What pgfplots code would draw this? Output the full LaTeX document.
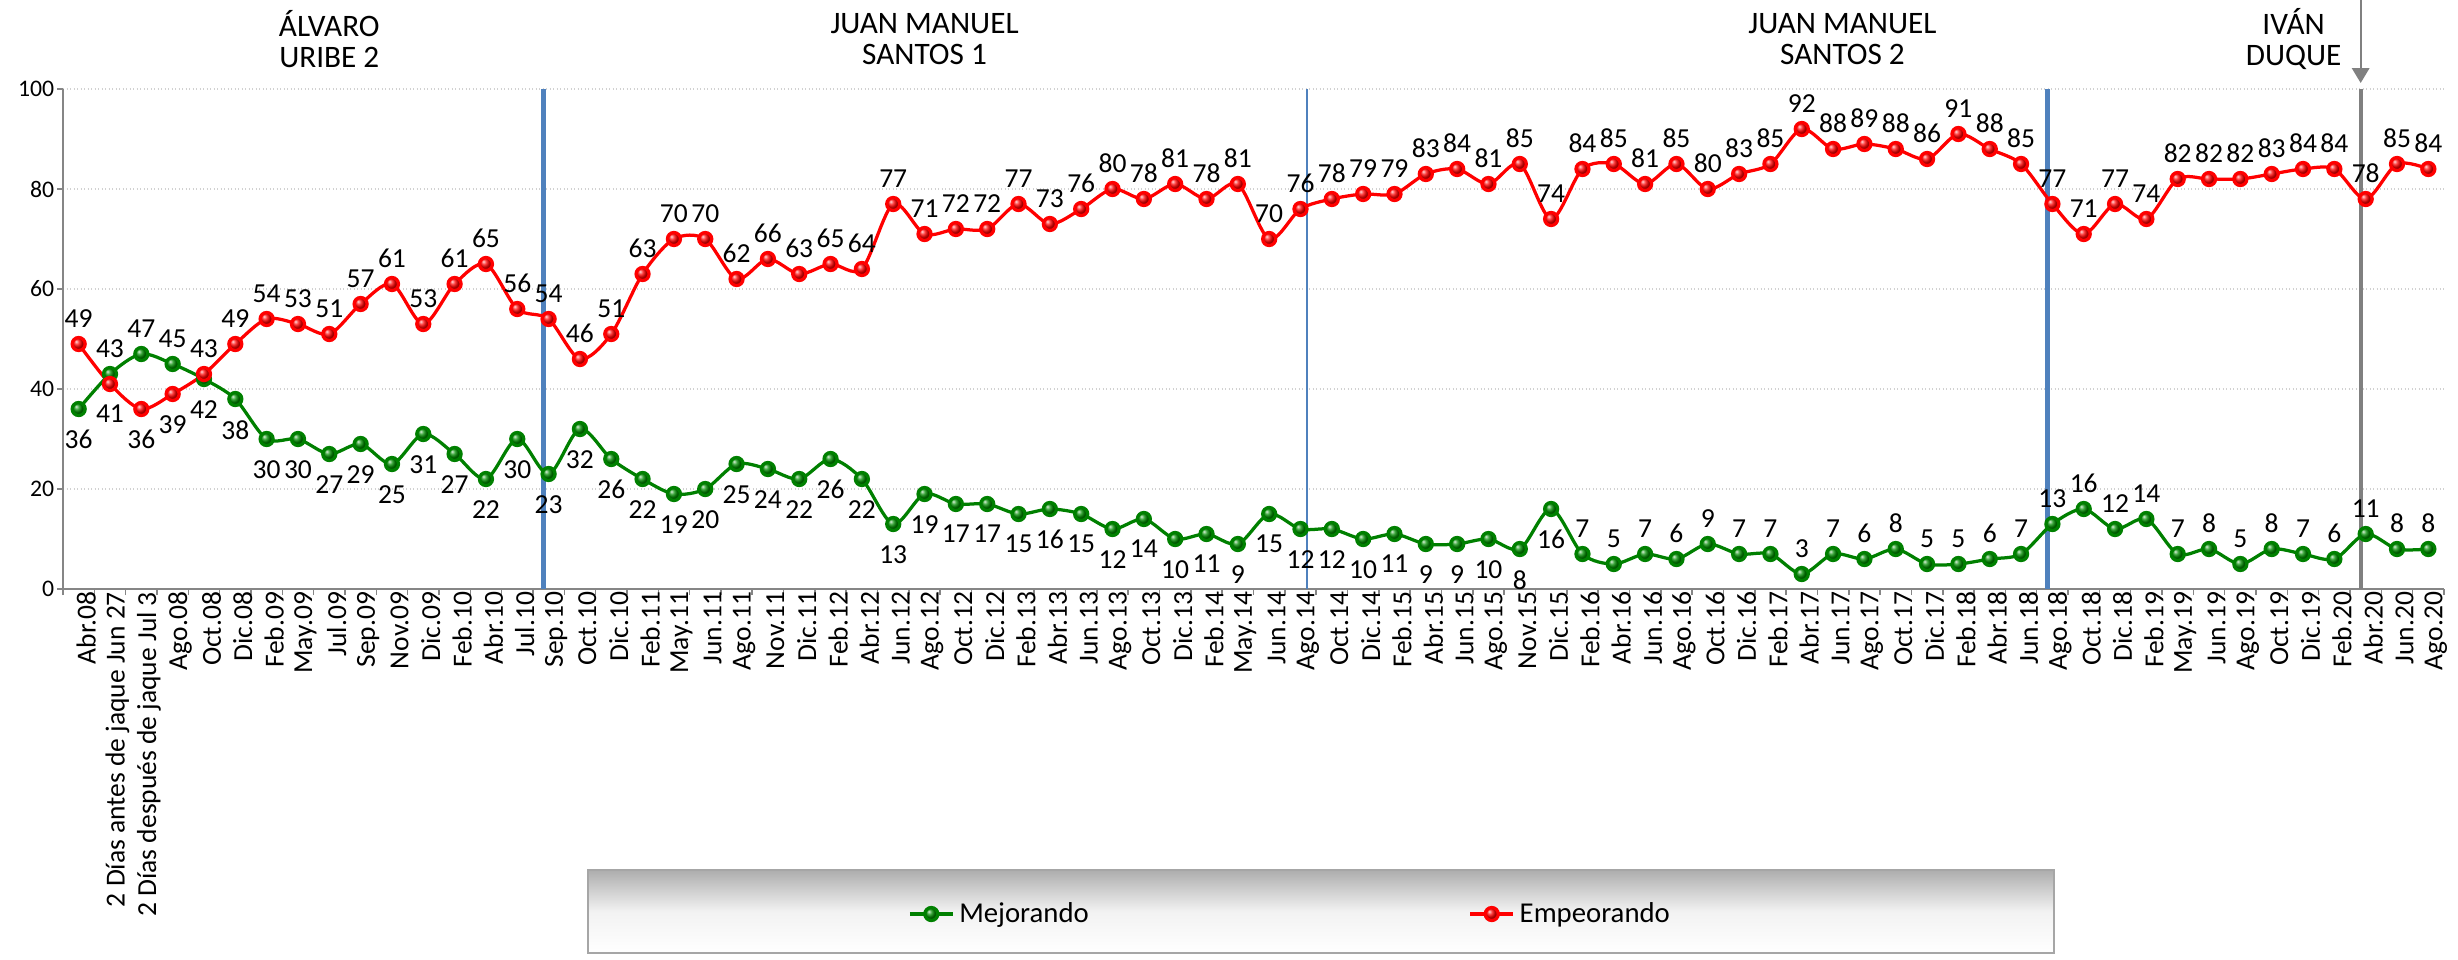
\documentclass[border=0pt]{standalone}
\usepackage{pgfplots}
\pgfplotsset{compat=1.18}
\usepackage{pgfplotstable}
\usepackage{fontspec}
\setmainfont{Carlito}
\usetikzlibrary{arrows.meta}
\definecolor{exblue}{RGB}{79,129,189}
\definecolor{exgreen}{RGB}{0,128,0}
\definecolor{exred}{RGB}{255,0,0}
\definecolor{axgray}{RGB}{134,134,134}
\definecolor{arrgray}{RGB}{128,128,128}
\pgfplotstableread{
x mej emp
0 36 49
1 43 41
2 47 36
3 45 39
4 42 43
5 38 49
6 30 54
7 30 53
8 27 51
9 29 57
10 25 61
11 31 53
12 27 61
13 22 65
14 30 56
15 23 54
16 32 46
17 26 51
18 22 63
19 19 70
20 20 70
21 25 62
22 24 66
23 22 63
24 26 65
25 22 64
26 13 77
27 19 71
28 17 72
29 17 72
30 15 77
31 16 73
32 15 76
33 12 80
34 14 78
35 10 81
36 11 78
37 9 81
38 15 70
39 12 76
40 12 78
41 10 79
42 11 79
43 9 83
44 9 84
45 10 81
46 8 85
47 16 74
48 7 84
49 5 85
50 7 81
51 6 85
52 9 80
53 7 83
54 7 85
55 3 92
56 7 88
57 6 89
58 8 88
59 5 86
60 5 91
61 6 88
62 7 85
63 13 77
64 16 71
65 12 77
66 14 74
67 7 82
68 8 82
69 5 82
70 8 83
71 7 84
72 6 84
73 11 78
74 8 85
75 8 84
}\data
\pgfplotsset{
  lbl/.style={draw=none, mark=none, forget plot, nodes near coords,
    every node near coord/.append style={font=\fontsize{11}{12}\selectfont, text=black, inner sep=1pt}},
  lblup/.style={lbl, every node near coord/.append style={anchor=south, outer sep=5.5pt}},
  lbldn/.style={lbl, every node near coord/.append style={anchor=north, outer sep=7.5pt}},
}
\begin{document}
\begin{tikzpicture}
\begin{axis}[
  scale only axis, width=952.4pt, height=200pt,
  xmin=-0.5, xmax=75.5, ymin=0, ymax=100,
  clip=false,
  /pgf/number format/assume math mode=true,
  axis x line*=bottom, axis y line*=left,
  axis line style={axgray, line width=0.8pt},
  xtick={0,...,75},
  xticklabels={Abr.08, 2 Días antes de jaque Jun 27, 2 Días después de jaque Jul 3, Ago.08, Oct.08, Dic.08, Feb.09, May.09, Jul.09, Sep.09, Nov.09, Dic.09, Feb.10, Abr.10, Jul.10, Sep.10, Oct.10, Dic.10, Feb.11, May.11, Jun.11, Ago.11, Nov.11, Dic.11, Feb.12, Abr.12, Jun.12, Ago.12, Oct.12, Dic.12, Feb.13, Abr.13, Jun.13, Ago.13, Oct.13, Dic.13, Feb.14, May.14, Jun.14, Ago.14, Oct.14, Dic.14, Feb.15, Abr.15, Jun.15, Ago.15, Nov.15, Dic.15, Feb.16, Abr.16, Jun.16, Ago.16, Oct.16, Dic.16, Feb.17, Abr.17, Jun.17, Ago.17, Oct.17, Dic.17, Feb.18, Abr.18, Jun.18, Ago.18, Oct.18, Dic.18, Feb.19, May.19, Jun.19, Ago.19, Oct.19, Dic.19, Feb.20, Abr.20, Jun.20, Ago.20},
  x tick label style={rotate=90, anchor=east, font=\fontsize{11}{12}\selectfont, inner sep=1pt, yshift=-3pt},
  ytick={0,20,...,100},
  y tick label style={font=\fontsize{9.5}{10}\selectfont},
  major tick length=0pt, minor tick length=2.4pt, tick align=outside,
  minor xtick={-0.5,0.5,...,75.5}, minor ytick={0,20,...,100},
  tick style={axgray, line width=0.6pt},
  ymajorgrids, grid style={densely dotted, black!18, line width=0.5pt},
  legend style={at={(0.516,-0.65)}, anchor=center, draw=none, fill=none,
    font=\fontsize{11.5}{12}\selectfont, legend columns=2,
    /tikz/every even column/.append style={column sep=150pt}},
  legend image post style={line width=1.3pt},
]
% legend background box
\shade[top color=black!32, bottom color=white, middle color=black!5]
  (rel axis cs:0.2205,-0.562) rectangle (rel axis cs:0.836,-0.728);
\draw[black!35, line width=0.8pt]
  (rel axis cs:0.2205,-0.562) rectangle (rel axis cs:0.836,-0.728);
% vertical separators
\addplot[exblue, line width=2pt, forget plot] coordinates {(14.83,0) (14.83,100)};
\addplot[exblue, line width=0.8pt, forget plot] coordinates {(39.2,0) (39.2,100)};
\addplot[exblue, line width=2pt, forget plot] coordinates {(62.85,0) (62.85,100)};
\addplot[arrgray, line width=1.6pt, forget plot] coordinates {(72.84,0) (72.84,100)};
\draw[arrgray, line width=0.8pt, -{Triangle[width=7pt,length=6pt]}]
  (axis cs:72.84,118) -- (axis cs:72.84,101.2);
% series
\addplot[exgreen, line width=1.3pt, smooth, tension=0.5,
  mark=ball, mark size=2.6pt, mark options={ball color=green!55!black}]
  table[x=x, y=mej]{\data};
\addlegendentry{Mejorando}
\addplot[exred, line width=1.3pt, smooth, tension=0.5,
  mark=ball, mark size=2.6pt, mark options={ball color=red}]
  table[x=x, y=emp]{\data};
\addlegendentry{Empeorando}
% data labels
\addplot[lbldn, restrict x to domain=-0.1:0.1] table[x=x, y=mej]{\data};
\addplot[lblup, restrict x to domain=0.9:3.1] table[x=x, y=mej]{\data};
\addplot[lbldn, restrict x to domain=3.9:47.1] table[x=x, y=mej]{\data};
\addplot[lblup, restrict x to domain=47.9:75.1] table[x=x, y=mej]{\data};
\addplot[lblup, restrict x to domain=-0.1:0.1] table[x=x, y=emp]{\data};
\addplot[lbldn, restrict x to domain=0.9:3.1] table[x=x, y=emp]{\data};
\addplot[lblup, restrict x to domain=3.9:75.1] table[x=x, y=emp]{\data};
% titles
\node[align=center, font=\fontsize{12.5}{12.6}\selectfont] at (axis cs:8,110) {ÁLVARO\\URIBE 2};
\node[align=center, font=\fontsize{12.5}{12.6}\selectfont] at (axis cs:27,110) {JUAN MANUEL\\SANTOS 1};
\node[align=center, font=\fontsize{12.5}{12.6}\selectfont] at (axis cs:56.3,110) {JUAN MANUEL\\SANTOS 2};
\node[align=center, font=\fontsize{12.5}{12.6}\selectfont] at (axis cs:70.7,110) {IVÁN\\DUQUE};
\coordinate (sw) at (rel axis cs:0,0);
\coordinate (ne) at (rel axis cs:1,1);
\end{axis}
\pgfresetboundingbox
\path[use as bounding box] ([xshift=-25.2pt,yshift=-148pt]sw) rectangle ([xshift=5.6pt,yshift=35.6pt]ne);
\end{tikzpicture}
\end{document}
